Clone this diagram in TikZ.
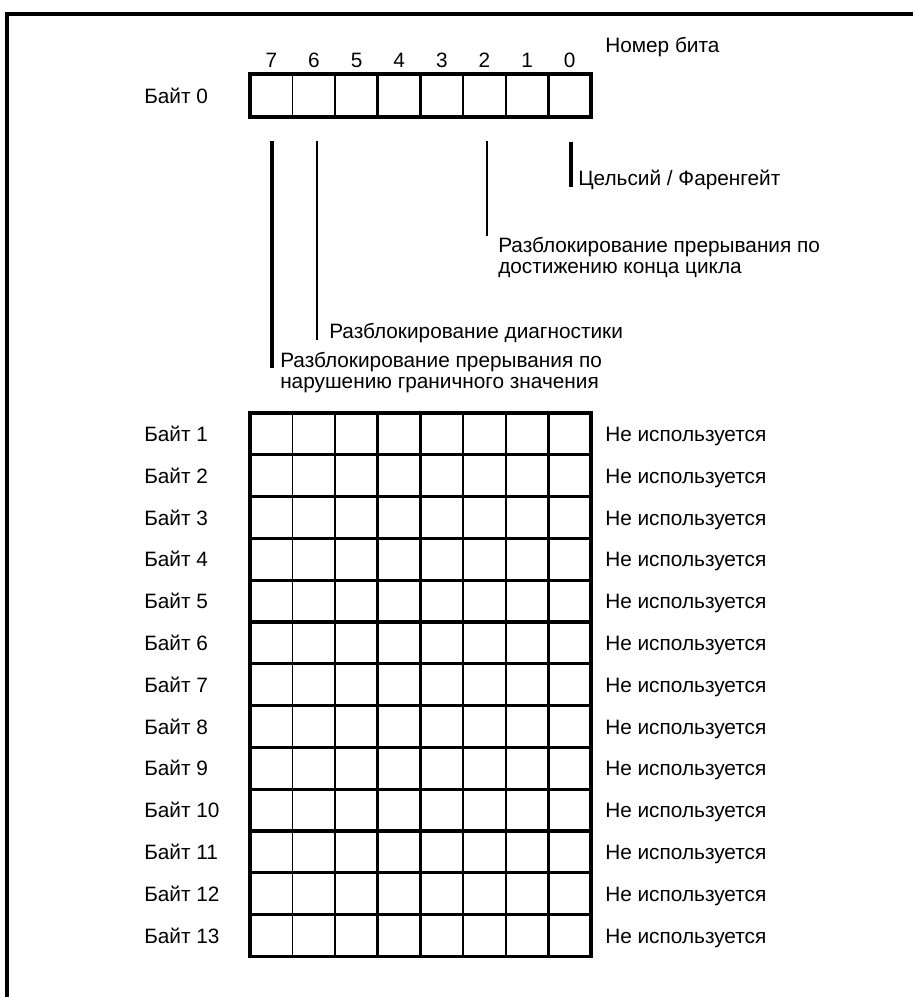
\documentclass[tikz,border=0pt]{standalone}
\usepackage{fontspec}
\setmainfont{Liberation Sans}
\begin{document}
\begin{tikzpicture}[x=0.75pt,y=-0.75pt,
  txt/.style={font=\fontsize{15.6}{15.8}\selectfont, inner sep=0pt},
  lbl/.style={txt, anchor=base west},
  mlbl/.style={txt, anchor=north west, align=left},
  bitnum/.style={txt, anchor=base},
  thickln/.style={line width=2.4pt},
  thinln/.style={line width=1.2pt},
  frameln/.style={line width=3pt},
  markthick/.style={line width=2.4pt},
  markthin/.style={line width=1.2pt}]
\useasboundingbox (0,0) rectangle (913,997);
% frame (top and left)
\draw[frameln] (7,997) -- (7,14) -- (913,14);

\def\cw{42.625}
% Byte 0 box
\coordinate (b0nw) at (250,74);
\coordinate (b0se) at (591,117);
\foreach \i in {1,2,5,6}{
  \draw[thinln] ({250+\i*\cw},74) -- ({250+\i*\cw},117);
}
\foreach \i in {3,4,7}{
  \draw[thickln] ({250+\i*\cw},74) -- ({250+\i*\cw},117);
}
\draw[thickln] (b0nw) rectangle (b0se);

% bit numbers
\foreach \n [count=\k from 0] in {7,6,5,4,3,2,1,0}{
  \node[bitnum] (bit\n) at ({250+(\k+0.5)*\cw},67) {\n};
}
\node[lbl] (bitno) at (605,52) {Номер бита};
\node[lbl] (byte0) at (144,103) {Байт 0};

% bit descriptor lines
\coordinate (l7a) at (272,141); \coordinate (l7b) at (272,368);
\coordinate (l6a) at (317,141); \coordinate (l6b) at (317,340);
\coordinate (l2a) at (487,141); \coordinate (l2b) at (487,236);
\coordinate (l0a) at (571,142); \coordinate (l0b) at (571,187);
\draw[markthick] (l7a) -- (l7b);
\draw[markthin] (l6a) -- (l6b);
\draw[markthin] (l2a) -- (l2b);
\draw[markthick] (l0a) -- (l0b);

\node[lbl] (celsius) at (578,185) {Цельсий / Фаренгейт};
\node[mlbl] (cycle) at (498,237) {Разблокирование прерывания по\\достижению конца цикла};
\node[mlbl] (diag) at (329,323) {Разблокирование диагностики};
\node[mlbl] (limit) at (280,352) {Разблокирование прерывания по\\нарушению граничного значения};

% bytes 1..13 grid
\def\rh{41.8}
\def\gt{413}
\foreach \i in {1,2,5,6}{
  \draw[thinln] ({250+\i*\cw},\gt) -- ({250+\i*\cw},{\gt+13*\rh});
}
\foreach \i in {3,4,7}{
  \draw[thickln] ({250+\i*\cw},\gt) -- ({250+\i*\cw},{\gt+13*\rh});
}
\foreach \r in {1,...,12}{
  \draw[thickln] (250,{\gt+\r*\rh}) -- (591,{\gt+\r*\rh});
}
\draw[thickln] (250,\gt) rectangle (591,{\gt+13*\rh});

\foreach \r in {1,...,13}{
  \node[lbl] (byte\r) at (144,{\gt+(\r-0.5)*\rh+7.5}) {Байт \r};
  \node[lbl] (unused\r) at (605,{\gt+(\r-0.5)*\rh+7.5}) {Не используется};
}
\end{tikzpicture}
\end{document}
